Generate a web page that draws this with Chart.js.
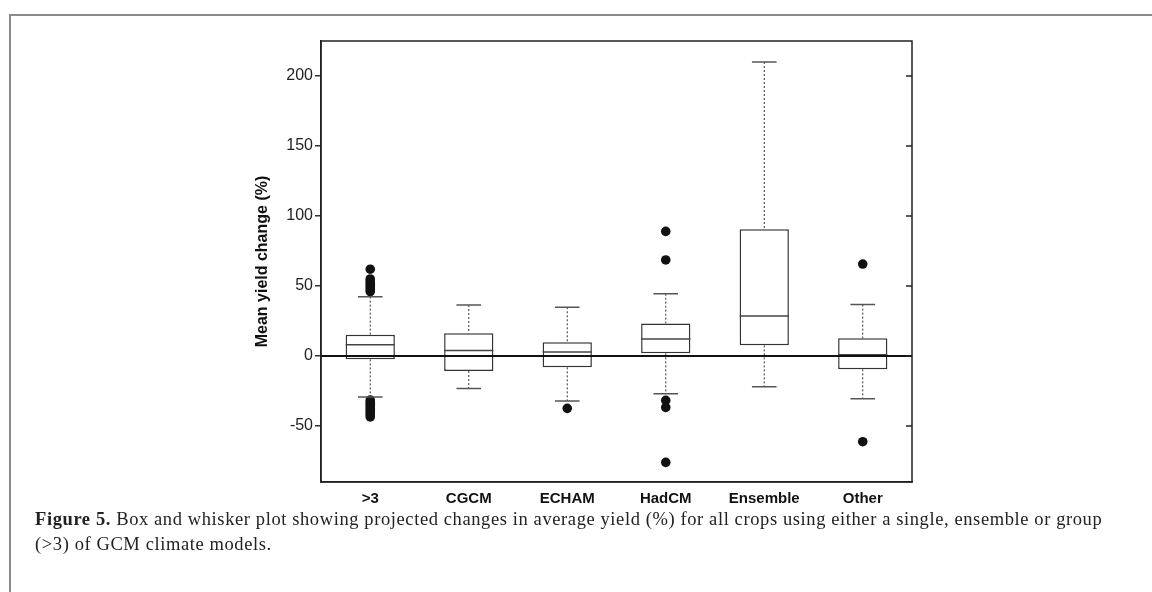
<!DOCTYPE html>
<html>
<head>
  <meta charset="UTF-8" />
  <title>Figure 5</title>
  <script src="https://cdn.jsdelivr.net/npm/chart.js"></script>
  <style>
    html, body { margin: 0; padding: 0; background: #fff; }
    #page { position: relative; width: 1152px; height: 592px; overflow: hidden; }
    #frame { position: absolute; left: 9px; top: 14px; width: 1160px; height: 600px;
             border-left: 2px solid #8a8a8a; border-top: 2px solid #8a8a8a; }
    #yieldChart { position: absolute; left: 0; top: 0; }
    #caption { position: absolute; left: 35px; top: 507px; font-family: "Liberation Serif", serif;
               font-size: 18.5px; letter-spacing: 0.6px; line-height: 25px; color: #222; white-space: nowrap; }
  </style>
</head>
<body>
<div id="page">
  <div id="frame"></div>
  <canvas id="yieldChart" width="1152" height="592"></canvas>
  <div id="caption"><b>Figure 5.</b> Box and whisker plot showing projected changes in average yield (%) for all crops using either a single, ensemble or group<br>(&gt;3) of GCM climate models.</div>
</div>

<script>
  // значения
  const categories = ['>3', 'CGCM', 'ECHAM', 'HadCM', 'Ensemble', 'Other'];
  const whiskerLow = [-29.3, -23.3, -32.1, -26.9, -21.9, -30.5];
  const q1 = [-2.4, -10.7, -8.1, 1.9, 7.6, -9.5];
  const median = [8, 4, 2.9, 12.1, 28.6, 0.9];
  const q3 = [15.2, 16.2, 9.8, 23.3, 90.5, 12.6];
  const whiskerHigh = [42.4, 36.4, 34.8, 44.5, 210, 36.7];
  const outliers = [
    [62, 55, 53.5, 52, 50.5, 49, 47.5, 46, -31.5, -33, -34.5, -36, -37.5, -39, -40.5, -42, -43.5],
    [],
    [-37.4],
    [89, 68.6, -31.7, -36.7, -76],
    [],
    [65.7, -61.2]
  ];
  const yTicks = [-50, 0, 50, 100, 150, 200];

  const outlierPoints = [];
  outliers.forEach((list, i) => {
    list.forEach(v => outlierPoints.push({ x: categories[i], y: v }));
  });

  const boxPlugin = {
    id: 'boxWhiskers',
    afterDatasetsDraw(chart) {
      const ctx = chart.ctx;
      const x = chart.scales.x;
      const y = chart.scales.y;
      const area = chart.chartArea;
      const bars = chart.getDatasetMeta(0).data;

      ctx.save();
      categories.forEach((c, i) => {
        const cx = x.getPixelForValue(i);
        const capHalf = bars[i].width * 0.25;

        // усы
        ctx.strokeStyle = '#333';
        ctx.lineWidth = 1;
        ctx.setLineDash([2, 2]);
        ctx.beginPath();
        ctx.moveTo(cx, y.getPixelForValue(whiskerHigh[i]));
        ctx.lineTo(cx, y.getPixelForValue(q3[i]));
        ctx.moveTo(cx, y.getPixelForValue(q1[i]));
        ctx.lineTo(cx, y.getPixelForValue(whiskerLow[i]));
        ctx.stroke();
        ctx.setLineDash([]);

        ctx.strokeStyle = '#555';
        ctx.lineWidth = 1.5;
        ctx.beginPath();
        ctx.moveTo(cx - capHalf, y.getPixelForValue(whiskerHigh[i]));
        ctx.lineTo(cx + capHalf, y.getPixelForValue(whiskerHigh[i]));
        ctx.moveTo(cx - capHalf, y.getPixelForValue(whiskerLow[i]));
        ctx.lineTo(cx + capHalf, y.getPixelForValue(whiskerLow[i]));
        ctx.stroke();

        // медиана
        const half = bars[i].width / 2;
        ctx.strokeStyle = '#444';
        ctx.lineWidth = 1.5;
        ctx.beginPath();
        ctx.moveTo(cx - half, y.getPixelForValue(median[i]));
        ctx.lineTo(cx + half, y.getPixelForValue(median[i]));
        ctx.stroke();
      });

      // линия нуля
      const y0 = y.getPixelForValue(0);
      ctx.strokeStyle = '#111';
      ctx.lineWidth = 2;
      ctx.beginPath();
      ctx.moveTo(area.left, y0);
      ctx.lineTo(area.right, y0);
      ctx.stroke();

      // рамка и внутренние засечки справа
      ctx.strokeStyle = '#222';
      ctx.lineWidth = 1.5;
      ctx.strokeRect(area.left, area.top, area.right - area.left, area.bottom - area.top);
      ctx.beginPath();
      yTicks.forEach(t => {
        const py = y.getPixelForValue(t);
        ctx.moveTo(area.right, py);
        ctx.lineTo(area.right - 6, py);
      });
      ctx.stroke();
      ctx.restore();
    }
  };

  const chartConfig = {
    data: {
      labels: categories,
      datasets: [{
        type: 'bar',
        data: categories.map((c, i) => [q1[i], q3[i]]),
        backgroundColor: '#fff',
        borderColor: '#333',
        borderWidth: 1.5,
        borderSkipped: false,
        barPercentage: 0.5,
        categoryPercentage: 1
      }, {
        type: 'line',
        data: outlierPoints,
        showLine: false,
        pointRadius: 4.8,
        pointBackgroundColor: '#111',
        pointBorderWidth: 0
      }]
    },
    options: {
      responsive: false,
      animation: false,
      layout: { padding: { left: 250, top: 41, right: 240, bottom: 80 } },
      plugins: { legend: { display: false }, tooltip: { enabled: false } },
      scales: {
        x: {
          offset: true,
          afterFit(scale) { scale.height = 30; },
          grid: { display: false, drawTicks: false },
          border: { display: true, color: '#222', width: 1.5 },
          ticks: {
            padding: 8,
            color: '#111',
            font: { family: 'Liberation Sans', size: 15, weight: 'bold' }
          }
        },
        y: {
          min: -90,
          max: 225,
          afterFit(scale) { scale.width = 71; },
          afterBuildTicks(scale) { scale.ticks = yTicks.map(v => ({ value: v })); },
          grid: { drawOnChartArea: false, tickLength: 6, color: '#333', lineWidth: 1.5 },
          border: { display: true, color: '#222', width: 1.5 },
          ticks: {
            padding: 2,
            color: '#222',
            font: { family: 'Liberation Sans', size: 16 }
          },
          title: {
            display: true,
            text: 'Mean yield change (%)',
            color: '#111',
            padding: { top: 3, bottom: 0 },
            font: { family: 'Liberation Sans', size: 16, weight: 'bold' }
          }
        }
      }
    },
    plugins: [boxPlugin]
  };

  new Chart(document.getElementById('yieldChart'), chartConfig);
</script>
</body>
</html>
